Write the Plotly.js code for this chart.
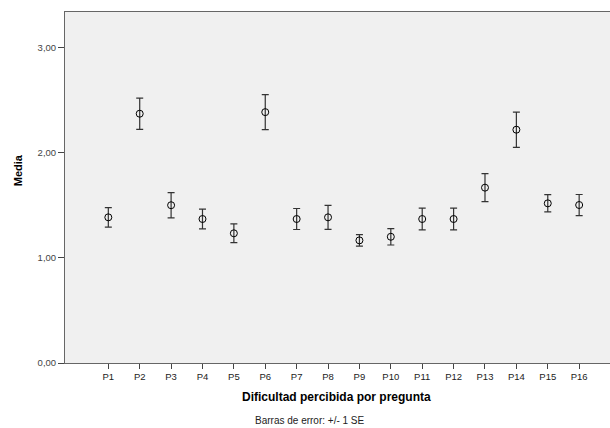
<!DOCTYPE html>
<html>
<head>
<meta charset="utf-8">
<script src="https://cdn.plot.ly/plotly-3.0.1.min.js"></script>
<style>html,body{margin:0;padding:0;background:#fff;overflow:hidden;}#chart{width:614px;height:428px;}</style>
</head>
<body>
<div id="chart"></div>
<script>
const categories = ["P1","P2","P3","P4","P5","P6","P7","P8","P9","P10","P11","P12","P13","P14","P15","P16"];
const means = [1.385, 2.37, 1.50, 1.369, 1.233, 2.385, 1.369, 1.385, 1.166, 1.20, 1.369, 1.369, 1.667, 2.218, 1.518, 1.502];
const stdErrors = [0.093, 0.148, 0.12, 0.094, 0.089, 0.167, 0.10, 0.114, 0.054, 0.078, 0.103, 0.103, 0.133, 0.168, 0.082, 0.10];
const yTicks = [0, 1, 2, 3];

const trace = {
  type: 'scatter',
  mode: 'markers',
  x: categories,
  y: means,
  marker: {symbol: 'circle-open', size: 7, color: '#000', line: {width: 1, color: '#000'}},
  error_y: {type: 'data', array: stdErrors, visible: true, color: '#333', thickness: 1.2, width: 3.5},
  hoverinfo: 'skip',
  cliponaxis: false
};

const layout = {
  width: 614, height: 428,
  margin: {l: 65, r: 0, t: 12, b: 65},
  paper_bgcolor: '#ffffff',
  plot_bgcolor: '#f0f0f0',
  separators: ',.',
  showlegend: false,
  font: {family: 'Liberation Sans, Arial, sans-serif', size: 9, color: '#333'},
  xaxis: {
    type: 'category',
    range: [-1.38, 16.11],
    showgrid: false, zeroline: false,
    showline: true, linecolor: '#666', linewidth: 1, mirror: true,
    ticks: 'outside', ticklen: 5, tickcolor: '#444', tickwidth: 1,
    tickfont: {size: 9.5, color: '#222', family: 'Liberation Sans, Arial, sans-serif'},
    fixedrange: true
  },
  yaxis: {
    range: [0, 3.337],
    tickvals: yTicks,
    tickformat: '.2f',
    showgrid: false, zeroline: false,
    showline: true, linecolor: '#666', linewidth: 1,
    ticks: 'outside', ticklen: 6, tickcolor: '#444', tickwidth: 1,
    tickfont: {size: 9.5, color: '#444', family: 'Liberation Sans, Arial, sans-serif'},
    fixedrange: true
  },
  annotations: [
    {text: '<b>Media</b>', xref: 'paper', yref: 'paper', x: -0.085, y: 0.55, textangle: -90,
     showarrow: false, xanchor: 'center', yanchor: 'middle',
     font: {size: 11, color: '#000', family: 'Liberation Sans, Arial, sans-serif'}},
    {text: '<b>Dificultad percibida por pregunta</b>', xref: 'paper', yref: 'paper', x: 0.494, y: -0.098,
     showarrow: false, xanchor: 'center', yanchor: 'middle',
     font: {size: 12, color: '#000', family: 'Liberation Sans, Arial, sans-serif'}},
    {text: 'Barras de error: +/- 1 SE', xref: 'paper', yref: 'paper', x: 0.446, y: -0.165,
     showarrow: false, xanchor: 'center', yanchor: 'middle',
     font: {size: 10, color: '#222', family: 'Liberation Sans, Arial, sans-serif'}}
  ]
};

Plotly.newPlot('chart', [trace], layout, {staticPlot: true, displayModeBar: false});
</script>
</body>
</html>
